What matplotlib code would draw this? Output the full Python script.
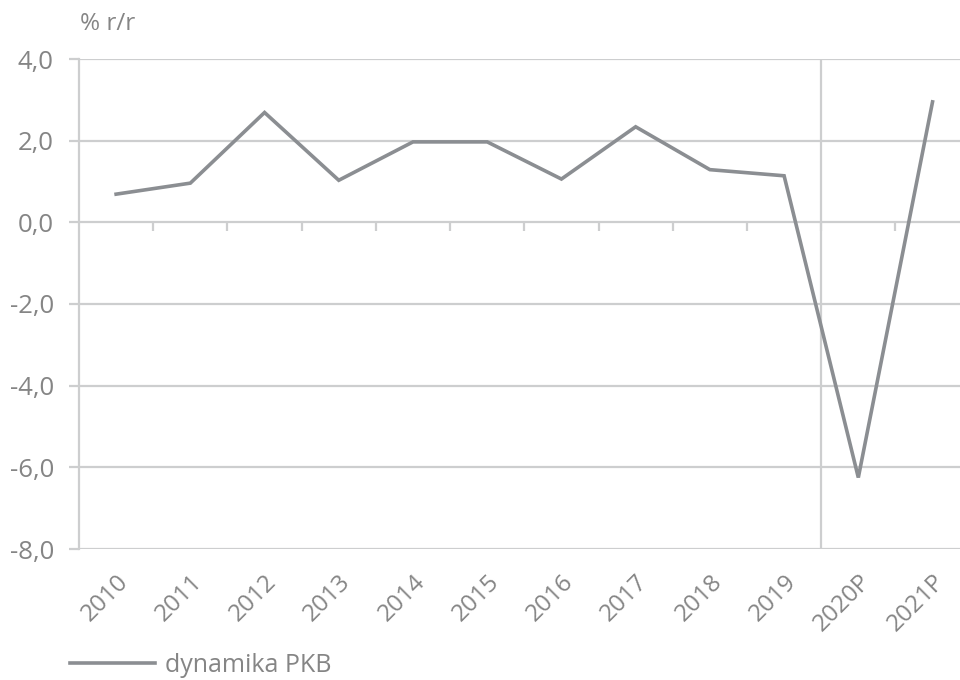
import numpy as np
import matplotlib.pyplot as plt

# GDP growth, % y/y
years = ['2010', '2011', '2012', '2013', '2014', '2015', '2016', '2017',
         '2018', '2019', '2020P', '2021P']
pkb = [0.69, 0.96, 2.69, 1.03, 1.97, 1.97, 1.06, 2.34, 1.29, 1.14, -6.25, 2.95]
yticks = [4.0, 2.0, 0.0, -2.0, -4.0, -6.0, -8.0]

grid_col = '#cdcecf'
line_col = '#8b8e92'
text_col = '#858585'

plt.rcParams['font.family'] = ['Open Sans', 'DejaVu Sans']

fig = plt.figure(figsize=(9.6, 6.8), dpi=100)
ax = fig.add_axes([79 / 960, 1 - 549 / 680, 1 - 79 / 960, (549 - 59) / 680])

x = np.arange(len(years))

# horizontal grid + forecast separator
for v in yticks:
    ax.axhline(v, color=grid_col, lw=1.6, zorder=1)
ax.axvline(9.5, color=grid_col, lw=1.6, zorder=1)

# small category tick marks hanging off the zero line
ax.vlines(np.arange(0.5, len(years) - 1), -0.2, 0, color=grid_col, lw=1.6, zorder=1)

ax.plot(x, pkb, color=line_col, lw=2.6, solid_joinstyle='miter', zorder=3,
        label='dynamika PKB')

ax.set_xlim(-0.5, 11.37)
ax.set_ylim(-8, 4)
ax.set_yticks(yticks)
ax.set_yticklabels([f'{v:.1f}'.replace('.', ',') for v in yticks])
ax.set_xticks(x)
ax.set_xticklabels(years, rotation=45, ha='right', va='top', rotation_mode='anchor')

for s in ['top', 'right', 'bottom']:
    ax.spines[s].set_visible(False)
ax.spines['left'].set_color(grid_col)
ax.spines['left'].set_linewidth(1.6)

ax.tick_params(axis='y', colors=grid_col, length=7, width=1.6, pad=11,
               labelcolor=text_col, labelsize=18.5)
ax.tick_params(axis='x', length=0, pad=15, labelcolor=text_col, labelsize=17.5)

fig.text(80 / 960, 1 - 24 / 680, '% r/r', color=text_col, fontsize=17.5, va='center')

leg = ax.legend(loc='center left', bbox_to_anchor=(60 / 960, 1 - 665 / 680),
                bbox_transform=fig.transFigure, frameon=False, fontsize=18,
                handlelength=3.4, handletextpad=0.4, borderaxespad=0)
for t in leg.get_texts():
    t.set_color(text_col)

fig.savefig('out.png', dpi=100)
